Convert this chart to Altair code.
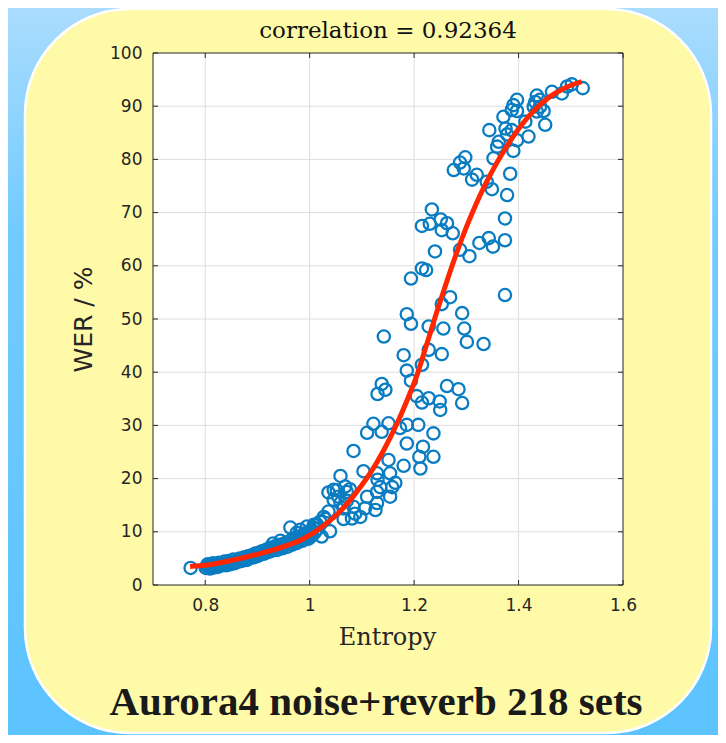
import altair as alt
import pandas as pd

W, H = 470, 532

# ---------------- data: (Entropy, WER %) ----------------
upper_points = [
    (1.523, 93.4), (1.502, 94.1), (1.493, 93.7), (1.483, 92.4), (1.464, 92.7),
    (1.435, 92.0), (1.441, 91.2), (1.432, 90.8), (1.429, 89.9), (1.441, 89.9),
    (1.448, 89.1), (1.451, 86.5), (1.435, 89.0), (1.397, 91.2), (1.390, 90.2),
    (1.387, 89.3), (1.397, 89.1), (1.371, 88.0), (1.413, 87.1), (1.419, 84.3),
    (1.344, 85.5), (1.375, 85.8), (1.387, 85.5), (1.378, 84.7), (1.362, 83.3),
    (1.359, 82.4), (1.397, 83.6), (1.390, 81.6), (1.352, 80.2), (1.384, 77.3),
    (1.378, 73.3), (1.349, 74.4), (1.339, 75.8), (1.320, 77.1), (1.298, 80.4),
    (1.288, 79.4), (1.276, 78.0), (1.295, 78.3), (1.311, 76.2),
]
midhigh_points = [
    (1.234, 70.6), (1.215, 67.5), (1.230, 67.9), (1.251, 68.7), (1.263, 68.0),
    (1.253, 66.7), (1.274, 66.1), (1.240, 62.7), (1.288, 63.0), (1.306, 61.8),
    (1.325, 64.3), (1.343, 65.2), (1.351, 63.6), (1.374, 64.8), (1.374, 68.9),
    (1.215, 59.5), (1.223, 59.2), (1.194, 57.6), (1.269, 54.1), (1.253, 52.8),
    (1.374, 54.5), (1.186, 50.9), (1.292, 51.1),
]
mid_points = [
    (1.194, 49.1), (1.142, 46.7), (1.228, 48.6), (1.256, 48.2), (1.296, 48.2),
    (1.301, 45.7), (1.333, 45.3), (1.228, 44.2), (1.253, 43.4), (1.180, 43.2),
    (1.215, 41.4), (1.186, 40.3), (1.194, 38.4), (1.138, 37.8), (1.145, 36.7),
    (1.130, 35.9), (1.263, 37.4), (1.285, 36.8), (1.292, 34.2), (1.205, 35.5),
    (1.215, 34.3), (1.228, 35.1), (1.249, 34.5), (1.250, 32.9),
]
lowmid_points = [
    (1.122, 30.3), (1.110, 28.6), (1.138, 28.8), (1.151, 30.4), (1.173, 29.5),
    (1.186, 30.1), (1.208, 30.1), (1.186, 26.6), (1.217, 26.0), (1.237, 28.5),
    (1.084, 25.2), (1.151, 23.5), (1.210, 24.1), (1.237, 24.1), (1.180, 22.4),
    (1.212, 21.9), (1.103, 21.4), (1.059, 20.5), (1.129, 21.0), (1.130, 19.8),
    (1.154, 21.0), (1.164, 19.2), (1.135, 18.4), (1.158, 18.4), (1.129, 17.5),
    (1.110, 16.6), (1.154, 16.6), (1.129, 15.4), (1.126, 14.1), (1.106, 14.4),
]
low_points = [
    (1.036, 17.4), (1.046, 17.9), (1.055, 16.6), (1.071, 17.5), (1.046, 16.0),
    (1.059, 15.4), (1.065, 14.4), (1.084, 14.7), (1.097, 12.8), (1.081, 12.5),
    (1.036, 13.8), (1.027, 12.8), (1.020, 11.9), (1.008, 11.3), (0.995, 11.0),
    (1.087, 13.4), (1.065, 12.4), (1.039, 10.1), (1.030, 12.4), (1.014, 11.4),
    (1.007, 10.8), (1.004, 9.8), (1.023, 9.1), (0.998, 8.7), (0.982, 10.4),
    (0.963, 10.8), (0.988, 9.4), (0.975, 8.7), (1.068, 18.5), (1.077, 18.0),
    (1.052, 17.8), (1.071, 15.8),
]
dense_points = [
    (0.772, 3.2),
    (0.801, 3.2), (0.803, 3.6), (0.805, 3.9), (0.807, 3.4), (0.809, 3.1),
    (0.811, 3.8), (0.813, 3.5), (0.815, 4.1), (0.817, 3.3), (0.819, 3.7),
    (0.822, 3.9), (0.824, 3.4), (0.826, 4.2), (0.829, 3.6), (0.832, 4.0),
    (0.834, 3.8), (0.837, 4.4), (0.840, 3.7), (0.842, 4.1), (0.845, 4.5),
    (0.848, 3.9), (0.851, 4.3), (0.854, 4.8), (0.857, 4.1), (0.860, 4.6),
    (0.863, 4.4), (0.866, 5.0), (0.869, 4.5), (0.872, 4.8), (0.875, 5.2),
    (0.879, 4.7), (0.882, 5.4), (0.885, 5.0), (0.889, 5.6), (0.892, 5.2),
    (0.896, 5.9), (0.899, 5.4), (0.903, 6.1), (0.906, 5.7), (0.910, 6.4),
    (0.913, 5.9), (0.917, 6.6), (0.920, 6.2), (0.924, 7.0), (0.927, 6.4),
    (0.931, 6.8), (0.934, 7.3), (0.938, 6.6), (0.941, 7.1), (0.945, 7.6),
    (0.948, 6.9), (0.951, 7.4), (0.955, 8.0), (0.958, 7.2), (0.961, 7.8),
    (0.964, 8.4), (0.967, 7.6), (0.970, 8.2), (0.973, 8.9), (0.976, 7.9),
    (0.979, 8.6), (0.983, 9.2), (0.986, 8.3), (0.989, 9.0), (0.992, 9.7),
    (0.995, 8.8), (0.998, 9.5), (1.001, 10.1), (1.005, 9.3), (1.010, 9.9),
    (1.015, 10.5), (0.944, 8.3), (0.930, 7.8), (0.975, 9.8),
]

# fitted curve
fit_entropy = [0.771, 0.800, 0.854, 0.905, 0.950, 0.988, 1.026, 1.058, 1.090,
               1.119, 1.141, 1.167, 1.186, 1.205, 1.224, 1.243, 1.263, 1.282,
               1.301, 1.320, 1.339, 1.358, 1.377, 1.396, 1.416, 1.435, 1.460,
               1.486, 1.521]
fit_wer = [3.5, 3.7, 4.7, 5.9, 7.2, 8.7, 11.1, 13.8, 17.5, 21.5, 25.2, 30.3,
           34.6, 39.3, 45.2, 51.2, 57.2, 62.6, 67.5, 71.9, 75.8, 79.3, 82.4,
           85.2, 87.7, 89.7, 91.8, 93.3, 94.6]

x_ticks = [0.8, 1.0, 1.2, 1.4, 1.6]
y_ticks = [0, 10, 20, 30, 40, 50, 60, 70, 80, 90, 100]
x_grid = [0.8, 1.0, 1.2, 1.4]
y_grid = [10, 20, 30, 40, 50, 60, 70, 80, 90]

title_text = "correlation = 0.92364"
x_title_text = "Entropy"
caption_text = "Aurora4 noise+reverb 218 sets"

# ---------------- frames ----------------
all_points = (upper_points + midhigh_points + mid_points + lowmid_points
              + low_points + dense_points)
pts = pd.DataFrame(all_points, columns=["entropy", "wer"])
fit = pd.DataFrame({"entropy": fit_entropy, "wer": fit_wer})
one = pd.DataFrame({"k": [0]})
xt = pd.DataFrame({"entropy": x_ticks})
yt = pd.DataFrame({"wer": y_ticks})
xg = pd.DataFrame({"entropy": x_grid})
yg = pd.DataFrame({"wer": y_grid})

LABEL = "#262626"
xscale = alt.Scale(domain=[0.7, 1.6], nice=False, zero=False)
yscale = alt.Scale(domain=[0, 100], nice=False, zero=False)

x_axis = alt.Axis(values=x_ticks, format="~g", title="", zindex=2,
                  grid=False, ticks=False, domain=False, labelFlush=False,
                  labelFont="DejaVu Sans", labelFontSize=17,
                  labelColor=LABEL, labelPadding=12)
y_axis = alt.Axis(values=y_ticks, title="WER / %", zindex=2,
                  grid=False, ticks=False, domain=False,
                  labelFont="DejaVu Sans", labelFontSize=17,
                  labelColor=LABEL, labelPadding=11,
                  titleFont="DejaVu Sans", titleFontSize=25,
                  titleFontWeight="normal", titleColor=LABEL,
                  titleAngle=270, titleAlign="center",
                  titleBaseline="alphabetic", titleX=-62, titleY=H / 2)


def X():
    return alt.X("entropy:Q", scale=xscale, axis=x_axis)


def Y():
    return alt.Y("wer:Q", scale=yscale, axis=y_axis)


# ---------------- decoration layers ----------------
bg = alt.Chart(one).mark_rect(
    fill={"gradient": "linear", "x1": 0, "y1": 0, "x2": 0, "y2": 1,
          "stops": [{"offset": 0, "color": "#aadcfd"},
                    {"offset": 0.3, "color": "#72cbff"},
                    {"offset": 1, "color": "#5cc3ff"}]}
).encode(x=alt.value(-145), x2=alt.value(565), y=alt.value(-45), y2=alt.value(682))

panel = alt.Chart(one).mark_rect(
    fill="#fffaa8", stroke="white", strokeWidth=2.5, cornerRadius=105
).encode(x=alt.value(-128), x2=alt.value(558), y=alt.value(-44), y2=alt.value(680))

plot_bg = alt.Chart(one).mark_rect(fill="white").encode(
    x=alt.value(0), x2=alt.value(W), y=alt.value(0), y2=alt.value(H))

gx = alt.Chart(xg).mark_rule(color="#dedede", strokeWidth=1).encode(
    x=X(), y=alt.value(0), y2=alt.value(H))
gy = alt.Chart(yg).mark_rule(color="#dedede", strokeWidth=1).encode(
    y=Y(), x=alt.value(0), x2=alt.value(W))

scatter = alt.Chart(pts).mark_point(
    shape="circle", filled=False, color="#0a7cc2", size=150, strokeWidth=2.3, opacity=1
).encode(x=X(), y=Y())

line = alt.Chart(fit).mark_line(color="#ff2600", strokeWidth=5, interpolate="monotone").encode(
    x=X(), y=Y())

tick_col = "#262626"
tx_bottom = alt.Chart(xt).mark_rule(color=tick_col).encode(
    x=X(), y=alt.value(H - 5), y2=alt.value(H))
tx_top = alt.Chart(xt).mark_rule(color=tick_col).encode(
    x=X(), y=alt.value(0), y2=alt.value(5))
ty_left = alt.Chart(yt).mark_rule(color=tick_col).encode(
    y=Y(), x=alt.value(0), x2=alt.value(5))
ty_right = alt.Chart(yt).mark_rule(color=tick_col).encode(
    y=Y(), x=alt.value(W - 5), x2=alt.value(W))

frame = alt.Chart(one).mark_rect(fill="transparent", stroke="#262626", strokeWidth=1).encode(
    x=alt.value(0), x2=alt.value(W), y=alt.value(0), y2=alt.value(H))

title = alt.Chart(one).mark_text(
    text=title_text, font="DejaVu Serif", fontSize=23, color="#111111",
    align="center", baseline="alphabetic"
).encode(x=alt.value(W / 2), y=alt.value(-15))

x_title = alt.Chart(one).mark_text(
    text=x_title_text, font="DejaVu Serif", fontSize=24, color=LABEL,
    align="center", baseline="alphabetic"
).encode(x=alt.value(W / 2 - 0.5), y=alt.value(592))

caption = alt.Chart(one).mark_text(
    text=caption_text, font="Liberation Serif", fontSize=41, fontWeight="bold",
    color="#1a1a1a", align="center", baseline="alphabetic"
).encode(x=alt.value(223), y=alt.value(662))

chart = alt.layer(
    bg, panel, plot_bg, gx, gy, scatter, line,
    tx_bottom, tx_top, ty_left, ty_right, frame, title, x_title, caption
).properties(
    width=W, height=H,
    autosize=alt.AutoSizeParams(type="none"),
    padding={"left": 145, "top": 45, "right": 95, "bottom": 150},
).configure_view(
    stroke="transparent"
)

chart.save("out.html", embed_options={"renderer": "svg", "actions": False})
